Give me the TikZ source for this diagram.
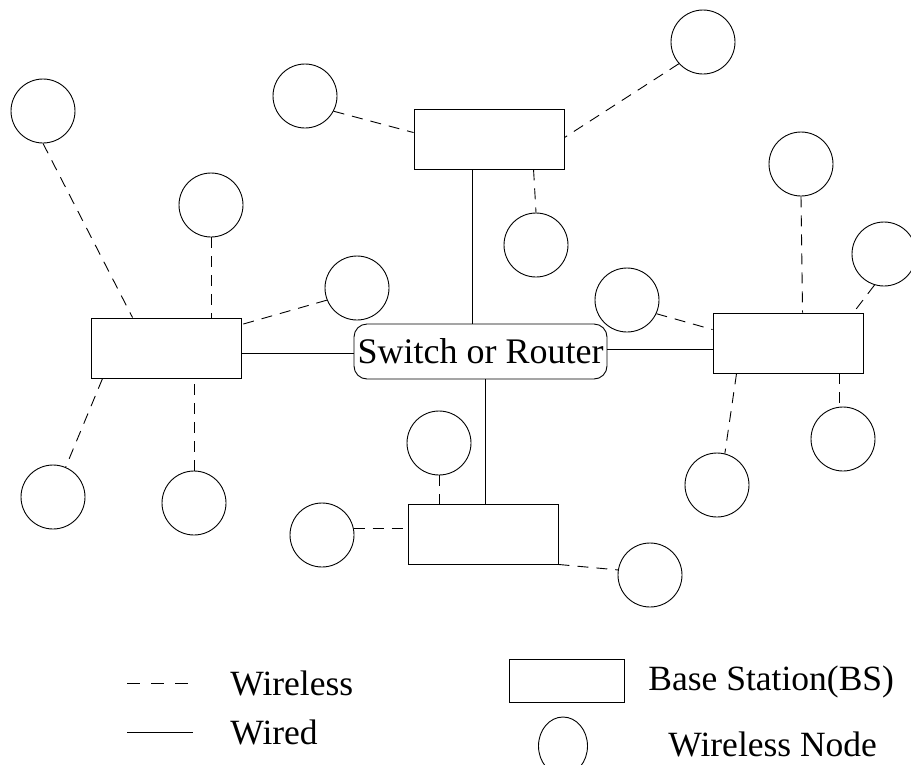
\documentclass[tikz,border=0pt]{standalone}
\usepackage{fontspec}
\setmainfont{Liberation Serif}
\usetikzlibrary{shapes.geometric,calc}
\begin{document}
\begin{tikzpicture}[x=1pt,y=-1pt,
  line width=0.9pt,
  wn/.style={circle, draw, minimum size=64pt, inner sep=0pt},
  bs/.style={draw, minimum width=150pt, minimum height=60pt, inner sep=0pt},
  wless/.style={dash pattern=on 11pt off 8pt},
  wired/.style={},
  lbl/.style={anchor=base west, inner sep=0pt, font=\fontsize{35.5}{40}\selectfont}]
\useasboundingbox (0,0) rectangle (911,764);

% base stations
\node[bs] (lbs) at (166,348) {};
\node[bs] (tbs) at (489,139) {};
\node[bs] (rbs) at (788,343) {};
\node[bs] (bbs) at (483,534) {};

% switch
\node[draw, rounded corners=13pt, minimum width=253pt, minimum height=55pt, inner sep=0pt,
      font=\fontsize{36}{40}\selectfont] (sw) at (480.5,351.5) {Switch or Router};

% wireless nodes
\node[wn] (c1) at (43,111) {};
\node[wn] (c2) at (211,205) {};
\node[wn] (c3) at (357,288) {};
\node[wn] (c4) at (305,96) {};
\node[wn] (c5) at (703,42) {};
\node[wn] (c6) at (536,245) {};
\node[wn] (c7) at (801,164) {};
\node[wn] (c8) at (884,254) {};
\node[wn] (c9) at (627,300) {};
\node[wn] (c10) at (843,439) {};
\node[wn] (c11) at (717,485) {};
\node[wn] (c12) at (439,443) {};
\node[wn] (c13) at (322,535) {};
\node[wn] (c14) at (650,575) {};
\node[wn] (c15) at (53,497) {};
\node[wn] (c16) at (194,503) {};

% wired links
\draw[wired] ([yshift=-2]sw.west) -- ([yshift=-2]sw.west -| lbs.east);
\draw[wired] ([yshift=-6]rbs.west) -- ([yshift=-6]rbs.west -| sw.east);
\draw[wired] ([xshift=59]tbs.south west) coordinate (tw) -- (tw |- sw.north);
\draw[wired] ([xshift=78]bbs.north west) coordinate (bw) -- (bw |- sw.south);

% wireless links: left BS
\draw[wless] (c1.south) -- ([xshift=42]lbs.north west);
\draw[wless] (c2.south) -- (c2.south |- lbs.north);
\draw[wless] (c3.202) -- ([yshift=-7]lbs.north east);
\draw[wless] ([xshift=12]lbs.south west) -- (c15.67);
\draw[wless] (c16.north) -- (c16.north |- lbs.south);

% top BS
\draw[wless] (c4.-28) -- ([yshift=-24]tbs.north west);
\draw[wless] (c5.222) -- ([yshift=-29]tbs.north east);
\draw[wless] ([xshift=120]tbs.south west) -- (c6.north);

% right BS
\draw[wless] (c7.south) -- ([xshift=90]rbs.north west);
\draw[wless] (c8.253) -- ([xshift=-10]rbs.north east);
\draw[wless] (c9.-25) -- ([yshift=-17]rbs.north west);
\draw[wless] ([xshift=24]rbs.south west) -- (c11.76);
\draw[wless] (c10.97 |- rbs.south) -- (c10.97);

% bottom BS
\draw[wless] (c12.south) -- (c12.south |- bbs.north);
\draw[wless] (c13.12) -- (c13.12 -| bbs.west);
\draw[wless] (bbs.south east) -- (c14.171);

% legend
\coordinate (la1) at (127,683);
\coordinate (la2) at (190,683);
\draw[dash pattern=on 13pt off 11pt] (la1) -- (la2);
\node[lbl] (lt1) at (230,695) {Wireless};
\coordinate (lb1) at (127,732);
\coordinate (lb2) at (193,732);
\draw[wired] (lb1) -- (lb2);
\node[lbl] (lt2) at (230,744) {Wired};
\node[draw, minimum width=115pt, minimum height=43pt, inner sep=0pt] (lbox) at (566.5,680.5) {};
\node[lbl] (lt3) at (648,690) {Base Station(BS)};
\node[draw, ellipse, minimum width=49pt, minimum height=58pt, inner sep=0pt] (lnode) at (563,746) {};
\node[lbl] (lt4) at (668,756) {Wireless Node};
\end{tikzpicture}
\end{document}
